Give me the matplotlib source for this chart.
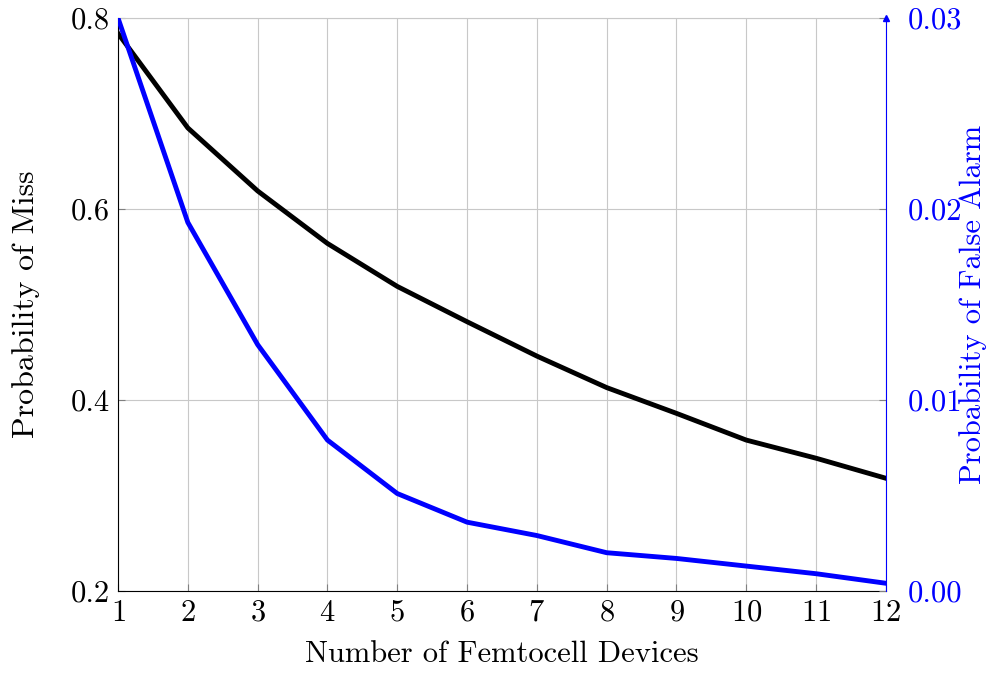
import matplotlib.pyplot as plt
import numpy as np

devices = [1, 2, 3, 4, 5, 6, 7, 8, 9, 10, 11, 12]
p_miss = [0.784, 0.685, 0.619, 0.564, 0.519, 0.482, 0.446, 0.413, 0.386, 0.358, 0.339, 0.318]
p_false_alarm = [0.0300, 0.0193, 0.0129, 0.0079, 0.0051, 0.0036, 0.0029, 0.0020, 0.0017, 0.0013, 0.0009, 0.0004]

left_ticks = [0.2, 0.4, 0.6, 0.8]
right_ticks = [0.0, 0.01, 0.02, 0.03]

plt.rcParams['font.family'] = ['cmr10', 'DejaVu Serif']
plt.rcParams['axes.formatter.use_mathtext'] = True

fig = plt.figure(figsize=(9.92, 6.73), dpi=100)
ax = fig.add_axes([0.119, 0.122, 0.774, 0.851])

ax.plot(devices, p_miss, color='black', linewidth=3.5, zorder=3)
ax.set_xlim(1, 12)
ax.set_ylim(0.2, 0.8)
ax.set_xticks(devices)
ax.set_yticks(left_ticks)
ax.set_yticklabels(['%.1f' % v for v in left_ticks])
ax.grid(True, color='#c8c8c8', linewidth=0.8)
ax.tick_params(direction='in', labelsize=22, length=5, color='#808080', pad=6)
ax.set_xlabel('Number of Femtocell Devices', fontsize=22, labelpad=10)
ax.set_ylabel('Probability of Miss', fontsize=23, labelpad=22)
ax.spines['top'].set_color('#c8c8c8')
ax.spines['right'].set_visible(False)

ax2 = ax.twinx()
ax2.plot(devices, p_false_alarm, color='blue', linewidth=3.5, zorder=3)
ax2.set_ylim(0, 0.03)
ax2.set_yticks(right_ticks)
ax2.set_yticklabels(['%.2f' % v for v in right_ticks])
ax2.tick_params(direction='in', labelsize=22, length=5, color='#808080', labelcolor='blue', pad=16)
ax2.set_ylabel('Probability of False Alarm', fontsize=22, color='blue')
ax2.yaxis.set_label_coords(1.095, 0.5)
ax2.spines['right'].set_color('blue')
ax2.spines['top'].set_visible(False)
ax2.spines['left'].set_visible(False)
ax2.spines['bottom'].set_visible(False)
ax2.plot(1, 1, marker='^', color='blue', markersize=5, transform=ax2.transAxes, clip_on=False)

plt.savefig('out.png', dpi=100)
